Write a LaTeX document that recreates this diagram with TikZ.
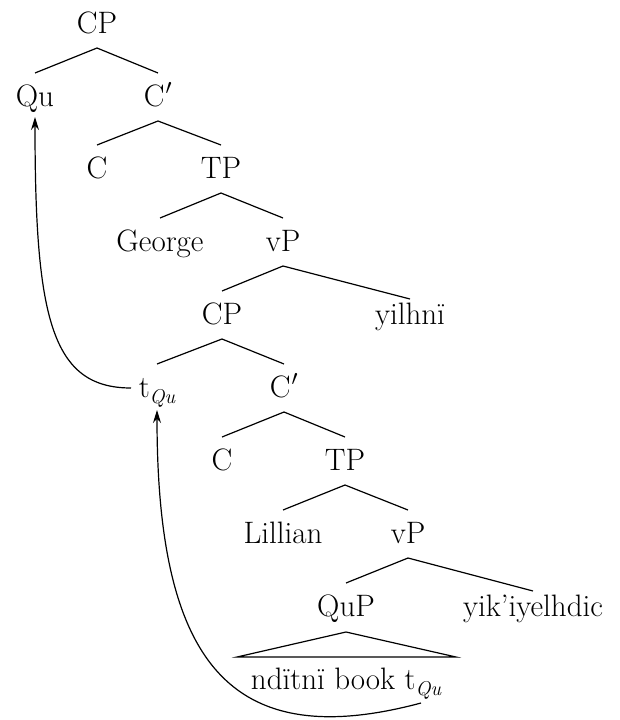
\RequirePackage{fix-cm}
\documentclass[tikz,border=0pt]{standalone}
\usepackage{fontspec}
\usetikzlibrary{arrows.meta}
\newcommand{\subQu}{\raisebox{-6pt}{\fontsize{20}{24}\selectfont\itshape Qu}}
\newcommand{\Cbar}{C\kern1pt$'$}
\begin{document}
\begin{tikzpicture}[x=1pt,y=-1pt,
  lab/.style={anchor=base,inner sep=0pt,font=\fontsize{31}{36}\selectfont},
  br/.style={line width=1.2pt},
  mv/.style={line width=1.2pt,-{Stealth[length=13pt,width=8pt]}}]
\useasboundingbox (0,0) rectangle (619,720);
\node[lab] (cpA) at (97,33) {CP};
\node[lab] (qu) at (35,106) {Qu};
\node[lab] (cbA) at (158,106) {\Cbar};
\node[lab] (cA) at (97,178) {C};
\node[lab] (tpA) at (221,178) {TP};
\node[lab] (george) at (160,251) {George};
\node[lab] (vpA) at (283,251) {vP};
\node[lab] (cpB) at (222,324) {CP};
\node[lab] (yil) at (410,324) {yilhnï};
\node[lab] (tq) at (157,397) {t\subQu};
\node[lab] (cbB) at (284,397) {\Cbar};
\node[lab] (cB) at (222,470) {C};
\node[lab] (tpB) at (345,470) {TP};
\node[lab] (lil) at (283,543) {Lillian};
\node[lab] (vpB) at (408,543) {vP};
\node[lab] (qup) at (346,616) {QuP};
\node[lab] (yik) at (533,616) {yik’iyelhdic};
\node[lab] (ndi) at (346,689) {ndïtnï book t\subQu};
% branches
\draw[br] ([yshift=33pt]qu.base) -- ([yshift=-15pt]cpA.base) -- ([yshift=33pt]cbA.base);
\draw[br] ([yshift=33pt]cA.base) -- ([yshift=-15pt]cbA.base) -- ([yshift=33pt]tpA.base);
\draw[br] ([yshift=33pt]george.base) -- ([yshift=-15pt]tpA.base) -- ([yshift=33pt]vpA.base);
\draw[br] ([yshift=33pt]cpB.base) -- ([yshift=-15pt]vpA.base) -- ([yshift=25pt]yil.base);
\draw[br] ([yshift=33pt]tq.base) -- ([yshift=-15pt]cpB.base) -- ([yshift=33pt]cbB.base);
\draw[br] ([yshift=33pt]cB.base) -- ([yshift=-15pt]cbB.base) -- ([yshift=33pt]tpB.base);
\draw[br] ([yshift=33pt]lil.base) -- ([yshift=-15pt]tpB.base) -- ([yshift=33pt]vpB.base);
\draw[br] ([yshift=33pt]qup.base) -- ([yshift=-15pt]vpB.base) -- ([yshift=25pt]yik.base);
\draw[br] ([xshift=-109pt,yshift=32pt]ndi.base) -- ([yshift=-16pt]qup.base) -- ([xshift=110pt,yshift=32pt]ndi.base) -- cycle;
% movement arrows
\coordinate (s1) at ([xshift=-26pt,yshift=9pt]tq.base);
\coordinate (s2) at ([xshift=75pt,yshift=-14pt]ndi.base);
\draw[mv] (s1) to[out=180,in=-90,out distance=80pt,in distance=200pt] ([yshift=-11pt]qu.base);
\draw[mv] (s2) to[out=195,in=-90,out distance=200pt,in distance=250pt] ([yshift=-13pt]tq.base);
\end{tikzpicture}
\end{document}
